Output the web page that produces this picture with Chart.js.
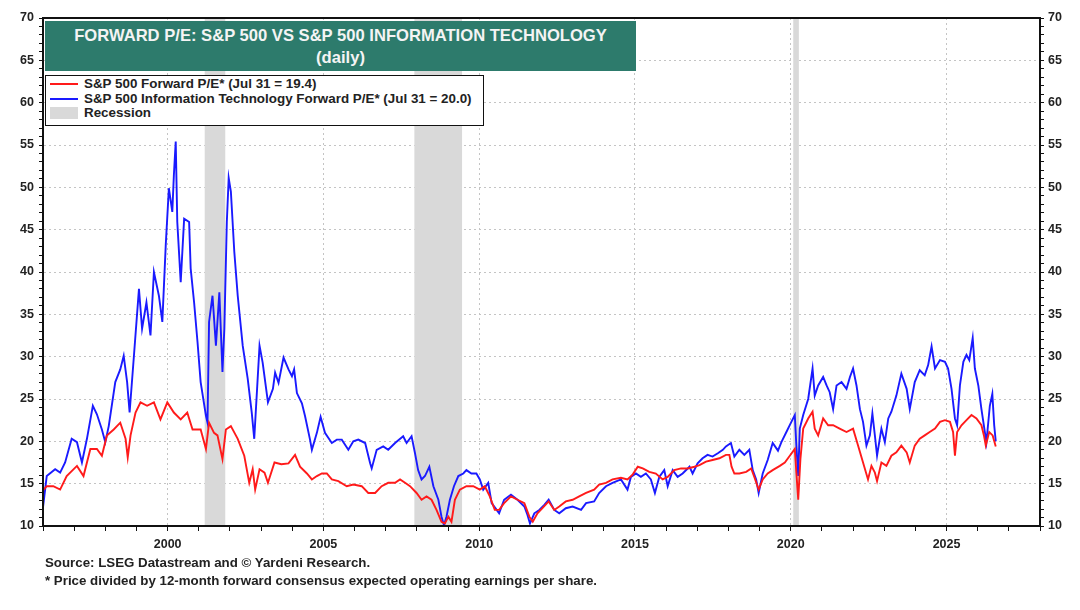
<!DOCTYPE html>
<html>
<head>
<meta charset="utf-8">
<script src="https://cdn.jsdelivr.net/npm/chart.js@4.4.1/dist/chart.umd.min.js"></script>
<style>
  body { margin: 0; background: #fff; font-family: "Liberation Sans", Arial, sans-serif; }
  #wrap { position: relative; width: 1080px; height: 610px; }
  #title {
    position: absolute; left: 45px; top: 21px; width: 591px; height: 50px;
    background: #2d7b6c; color: #f4f4f4; font-weight: bold; font-size: 16.6px;
    text-align: center; line-height: 22px; padding-top: 4px; box-sizing: border-box;
  }
  #legend {
    position: absolute; left: 45px; top: 75px; width: 439px; height: 51px;
    background: #fff; border: 1.5px solid #111; box-sizing: border-box;
    font-weight: bold; font-size: 13.4px; color: #222; padding-top: 1px;
  }
  .row { height: 14.5px; line-height: 14.5px; position: relative; padding-left: 38px; }
  .sw { position: absolute; left: 4px; top: 6px; width: 28px; height: 2px; }
  .box { position: absolute; left: 4px; top: 1px; width: 28px; height: 12px; background: #d9d9d9; }
  #notes {
    position: absolute; left: 45px; top: 554px; font-weight: bold; font-size: 13.3px;
    color: #222; line-height: 18px;
  }
</style>
</head>
<body>
<div id="wrap">
  <canvas id="myChart"></canvas>
  <div id="title">FORWARD P/E: S&amp;P 500 VS S&amp;P 500 INFORMATION TECHNOLOGY<br>(daily)</div>
  <div id="legend">
    <div class="row"><span class="sw" style="background:#ff1a1a"></span>S&amp;P 500 Forward P/E* (Jul 31 = 19.4)</div>
    <div class="row"><span class="sw" style="background:#1a1aff"></span>S&amp;P 500 Information Technology Forward P/E* (Jul 31 = 20.0)</div>
    <div class="row"><span class="box"></span>Recession</div>
  </div>
  <div id="notes">Source: LSEG Datastream and © Yardeni Research.<br>* Price divided by 12-month forward consensus expected operating earnings per share.</div>
</div>
<script>
// S&P 500 forward P/E (red)
const spxYears = [1996.00,1996.12,1996.33,1996.55,1996.76,1997.09,1997.30,1997.52,1997.73,1997.89,1998.05,1998.27,1998.48,1998.65,1998.72,1998.81,1998.97,1999.13,1999.34,1999.56,1999.77,1999.99,2000.20,2000.42,2000.63,2000.80,2001.06,2001.23,2001.33,2001.49,2001.60,2001.76,2001.87,2002.03,2002.25,2002.46,2002.62,2002.73,2002.81,2002.95,2003.11,2003.22,2003.43,2003.65,2003.88,2004.09,2004.25,2004.47,2004.63,2004.79,2004.95,2005.11,2005.27,2005.48,2005.75,2005.96,2006.23,2006.44,2006.66,2006.87,2007.08,2007.30,2007.46,2007.62,2007.78,2007.99,2008.15,2008.31,2008.47,2008.63,2008.79,2008.90,2009.01,2009.11,2009.22,2009.38,2009.59,2009.81,2010.02,2010.18,2010.34,2010.50,2010.64,2010.80,2011.02,2011.23,2011.45,2011.61,2011.72,2011.87,2012.03,2012.23,2012.41,2012.57,2012.78,2013.00,2013.21,2013.43,2013.69,2013.85,2014.07,2014.28,2014.55,2014.76,2014.93,2015.09,2015.25,2015.46,2015.67,2015.89,2016.05,2016.26,2016.48,2016.69,2016.91,2017.07,2017.28,2017.49,2017.71,2017.92,2018.03,2018.10,2018.19,2018.35,2018.57,2018.73,2018.83,2018.97,2019.10,2019.26,2019.42,2019.65,2019.81,2019.97,2020.13,2020.18,2020.24,2020.31,2020.40,2020.56,2020.70,2020.77,2020.88,2021.04,2021.20,2021.36,2021.57,2021.79,2022.00,2022.16,2022.32,2022.48,2022.59,2022.70,2022.77,2022.91,2023.07,2023.23,2023.39,2023.55,2023.72,2023.82,2023.98,2024.14,2024.30,2024.46,2024.63,2024.79,2024.95,2025.11,2025.21,2025.27,2025.34,2025.48,2025.64,2025.80,2025.96,2026.12,2026.20,2026.26,2026.37,2026.48,2026.58];
const spxPE = [14.2,14.7,14.7,14.3,15.9,17.1,15.9,19.1,19.1,18.3,20.7,21.4,22.2,20.3,18.1,20.7,23.4,24.6,24.2,24.6,22.6,24.6,23.4,22.6,23.4,21.4,21.4,19.1,22.2,21.0,20.7,17.9,21.4,21.8,20.3,18.3,15.1,16.7,14.3,16.7,16.3,15.1,17.5,17.3,17.4,18.4,17.0,16.2,15.5,15.9,16.2,16.2,15.5,15.3,14.7,14.9,14.7,13.9,13.9,14.7,15.1,15.1,15.5,15.1,14.7,13.9,13.1,13.5,13.1,11.9,10.5,10.3,11.1,10.5,13.1,14.3,14.7,14.7,14.3,14.7,13.5,11.9,11.9,12.7,13.5,13.1,12.7,11.1,10.5,11.5,12.1,12.9,11.9,12.3,12.9,13.1,13.5,13.9,14.3,14.9,15.1,15.5,15.7,15.5,16.1,17.0,16.8,16.4,16.2,15.5,15.8,16.6,16.8,16.8,17.0,17.2,17.6,17.8,18.0,18.4,18.4,17.0,16.2,16.2,16.4,16.8,15.8,14.3,15.5,16.2,16.6,17.1,17.5,18.3,19.1,16.3,13.1,17.9,21.5,22.7,23.5,21.5,20.7,22.7,21.9,21.9,21.5,21.1,21.5,19.5,17.5,15.5,17.1,16.3,15.3,17.5,17.1,18.3,18.7,19.5,18.7,17.5,19.5,20.3,20.7,21.1,21.5,22.3,22.5,22.3,21.1,18.3,21.1,21.9,22.5,23.1,22.7,21.9,20.7,19.5,21.1,20.7,19.4];

// S&P 500 Information Technology forward P/E (blue)
const techYears = [1996.00,1996.12,1996.39,1996.55,1996.71,1996.92,1997.09,1997.25,1997.41,1997.60,1997.73,1997.89,1998.00,1998.11,1998.32,1998.48,1998.59,1998.70,1998.78,1998.91,1999.08,1999.18,1999.32,1999.45,1999.56,1999.72,1999.83,1999.94,2000.04,2000.15,2000.20,2000.26,2000.31,2000.42,2000.53,2000.69,2000.74,2000.85,2000.96,2001.06,2001.23,2001.28,2001.33,2001.44,2001.55,2001.66,2001.76,2001.82,2001.90,2001.96,2002.03,2002.14,2002.25,2002.41,2002.57,2002.70,2002.78,2002.95,2003.05,2003.22,2003.38,2003.45,2003.56,2003.72,2003.88,2003.99,2004.06,2004.15,2004.31,2004.41,2004.57,2004.63,2004.79,2004.91,2005.05,2005.27,2005.43,2005.59,2005.80,2005.96,2006.12,2006.34,2006.50,2006.55,2006.71,2006.92,2007.08,2007.30,2007.56,2007.67,2007.83,2007.94,2008.04,2008.15,2008.26,2008.40,2008.53,2008.69,2008.79,2008.87,2008.95,2009.06,2009.19,2009.33,2009.49,2009.59,2009.75,2009.91,2010.02,2010.13,2010.29,2010.40,2010.56,2010.64,2010.80,2011.02,2011.23,2011.45,2011.55,2011.63,2011.77,2011.93,2012.09,2012.23,2012.41,2012.57,2012.78,2013.00,2013.27,2013.43,2013.69,2013.85,2014.07,2014.28,2014.55,2014.76,2014.87,2015.03,2015.19,2015.35,2015.51,2015.64,2015.78,2015.94,2016.05,2016.21,2016.37,2016.53,2016.75,2016.85,2017.01,2017.17,2017.33,2017.49,2017.66,2017.82,2017.92,2018.08,2018.19,2018.35,2018.51,2018.67,2018.78,2018.89,2018.97,2019.10,2019.26,2019.42,2019.59,2019.70,2019.86,2020.02,2020.13,2020.18,2020.24,2020.29,2020.40,2020.56,2020.70,2020.77,2020.88,2021.04,2021.15,2021.25,2021.36,2021.47,2021.63,2021.79,2021.90,2022.00,2022.11,2022.22,2022.32,2022.43,2022.54,2022.62,2022.70,2022.77,2022.91,2023.02,2023.13,2023.23,2023.39,2023.55,2023.72,2023.82,2023.98,2024.14,2024.30,2024.41,2024.52,2024.63,2024.79,2024.95,2025.05,2025.16,2025.27,2025.34,2025.43,2025.54,2025.64,2025.73,2025.84,2025.91,2026.02,2026.12,2026.23,2026.28,2026.39,2026.47,2026.53,2026.58];
const techPE = [12.2,15.9,16.7,16.3,17.5,20.3,19.9,17.5,20.3,24.2,23.2,21.4,19.9,21.8,27.0,28.5,30.1,27.0,23.4,29.7,38.0,33.3,36.4,32.5,40.0,37.2,34.1,43.2,49.9,47.1,51.4,55.4,45.9,38.8,46.3,45.9,40.4,36.4,31.7,27.0,23.0,22.2,34.1,37.2,31.3,37.6,28.2,33.3,45.9,51.1,49.5,42.4,37.2,31.3,27.4,23.4,20.3,31.3,29.3,24.6,26.2,28.1,26.9,29.9,28.5,27.7,28.5,25.7,24.5,23.0,20.2,19.0,21.0,22.9,21.0,19.8,20.2,20.2,19.0,20.0,20.2,19.8,17.4,16.8,19.0,19.4,19.0,19.8,20.6,19.8,20.6,18.6,16.6,15.5,15.9,17.0,14.7,13.1,11.1,10.1,11.1,13.1,14.7,15.9,16.2,16.6,16.2,16.2,15.5,14.3,15.1,12.7,11.9,11.5,13.1,13.7,13.1,12.3,11.3,10.3,11.5,11.9,12.5,13.1,11.9,11.5,12.1,12.3,11.9,12.7,12.9,13.9,14.7,15.1,15.5,14.3,15.8,16.2,15.8,16.2,15.5,13.9,15.8,16.6,14.7,16.6,15.8,16.2,17.0,16.2,17.4,18.0,18.4,18.2,18.6,19.0,19.4,19.8,18.2,19.0,18.4,19.0,16.6,15.5,13.9,16.2,17.8,19.8,18.9,19.9,21.1,22.3,23.1,19.5,15.9,21.5,23.1,25.0,28.6,25.4,26.6,27.6,26.6,25.8,23.8,26.6,27.0,26.2,27.6,28.6,26.6,23.8,22.3,19.5,20.7,23.3,20.7,18.3,21.5,19.9,22.7,23.5,25.4,28.0,26.2,23.8,27.0,28.4,27.8,29.0,31.2,28.6,29.6,29.4,28.6,26.2,22.7,21.9,26.6,29.4,30.2,29.6,32.2,28.6,26.6,23.8,21.1,19.9,24.2,25.6,21.9,20.0];

// NBER recessions
const recessionStarts = [2001.19, 2007.92, 2020.08];
const recessionEnds = [2001.85, 2009.45, 2020.26];

const xMin = 1996, xMax = 2028;
const yMin = 10, yMax = 70;

const toPoints = (xs, ys) => xs.map((x, i) => ({ x: x, y: ys[i] }));

const recessionPlugin = {
  id: 'recessions',
  beforeDatasetsDraw(chart) {
    const { ctx, chartArea, scales } = chart;
    ctx.save();
    ctx.fillStyle = '#d9d9d9';
    for (let i = 0; i < recessionStarts.length; i++) {
      const x1 = scales.x.getPixelForValue(recessionStarts[i]);
      const x2 = scales.x.getPixelForValue(recessionEnds[i]);
      ctx.fillRect(x1, chartArea.top, x2 - x1, chartArea.bottom - chartArea.top);
    }
    ctx.restore();
  }
};

const framePlugin = {
  id: 'frame',
  afterDatasetsDraw(chart) {
    const { ctx, chartArea } = chart;
    ctx.save();
    ctx.strokeStyle = '#111';
    ctx.lineWidth = 2;
    ctx.strokeRect(chartArea.left, chartArea.top, chartArea.right - chartArea.left, chartArea.bottom - chartArea.top);
    ctx.restore();
  }
};

const tickFont = { family: '"Liberation Sans", Arial, sans-serif', size: 12.5, weight: 'bold' };
const gridColor = (ctx) => (ctx.tick && ctx.tick.value % 5 === 0) ? '#c4c4c4' : 'rgba(0,0,0,0)';

const yAxis = (position, width, pad) => ({
  type: 'linear',
  position: position,
  min: yMin,
  max: yMax,
  afterFit: (scale) => { scale.width = width; },
  ticks: {
    stepSize: 1,
    autoSkip: false,
    padding: pad,
    color: '#222',
    font: tickFont,
    callback: (v) => (v % 5 === 0 ? v : '')
  },
  grid: {
    drawOnChartArea: position === 'left',
    color: gridColor,
    lineWidth: 1,
    tickLength: 4,
    tickColor: '#111',
    tickWidth: 1
  },
  border: { display: true, color: '#111', width: 2, dash: [2, 3] }
});

const config = {
  type: 'line',
  data: {
    datasets: [
      {
        label: 'S&P 500 Forward P/E',
        data: toPoints(spxYears, spxPE),
        borderColor: '#ff1a1a',
        borderWidth: 1.9,
        pointRadius: 0,
        tension: 0,
        yAxisID: 'y'
      },
      {
        label: 'S&P 500 Information Technology Forward P/E',
        data: toPoints(techYears, techPE),
        borderColor: '#1a1aff',
        borderWidth: 1.9,
        pointRadius: 0,
        tension: 0,
        yAxisID: 'y'
      }
    ]
  },
  options: {
    responsive: true,
    maintainAspectRatio: false,
    animation: false,
    layout: { padding: { top: 18, left: 0, right: 0, bottom: 0 } },
    plugins: {
      legend: { display: false },
      title: { display: false },
      tooltip: { enabled: false }
    },
    scales: {
      x: {
        type: 'linear',
        min: xMin,
        max: xMax,
        afterFit: (scale) => { scale.height = 84; },
        ticks: {
          stepSize: 1,
          autoSkip: false,
          maxRotation: 0,
          padding: 6,
          color: '#222',
          font: tickFont,
          callback: (v) => (v % 5 === 0 ? String(v) : '')
        },
        grid: {
          color: gridColor,
          lineWidth: 1,
          tickLength: 5,
          tickColor: '#111',
          tickWidth: 1
        },
        border: { display: true, color: '#111', width: 2, dash: [2, 3] }
      },
      y: yAxis('left', 43, 5),
      y2: yAxis('right', 40, 4)
    }
  },
  plugins: [recessionPlugin, framePlugin]
};

const myChart = new Chart(document.getElementById('myChart'), config);
</script>
</body>
</html>
